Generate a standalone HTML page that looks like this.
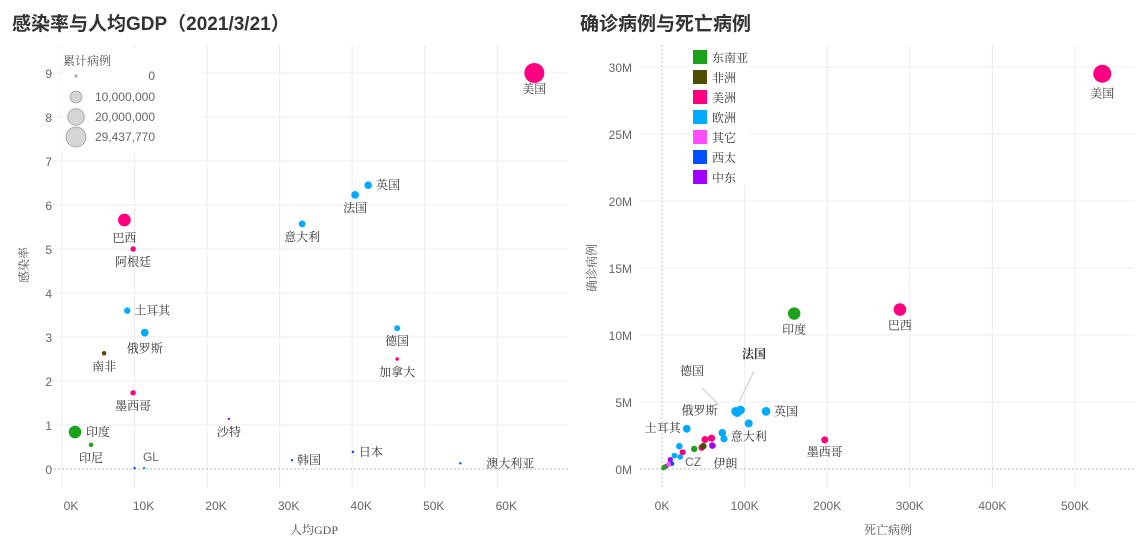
<!DOCTYPE html>
<html><head><meta charset="utf-8">
<style>
body{margin:0;background:#fff;width:1142px;height:545px;overflow:hidden}
svg{position:absolute;top:0;left:0}
.t{font-family:"Liberation Sans","Noto Sans CJK SC",sans-serif;font-weight:bold;font-size:19px;fill:#333}
.tick{font-family:"Liberation Sans",sans-serif;font-size:12px;fill:#666}
.lab{font-family:"Liberation Serif","Noto Serif CJK SC",serif;font-size:12px;fill:#333}
.ax{font-family:"Liberation Serif","Noto Serif CJK SC",serif;font-size:12px;fill:#555}
</style></head><body>
<svg id="s" width="1142" height="545">
<text class="t" x="12" y="30">感染率与人均GDP（2021/3/21）</text>
<text class="t" x="580" y="30">确诊病例与死亡病例</text>
<g id="L"></g><g id="R"></g>
</svg>
<script>
const colors={sea:'#1aa31a',af:'#4d4d00',am:'#ff0080',eu:'#00aaff',ot:'#ff4dff',wp:'#0050ff',me:'#a000ff'};
// Left chart data
const lNames=['美国','英国','法国','意大利','巴西','阿根廷','土耳其','俄罗斯','德国','加拿大','南非','墨西哥','印度','印尼','沙特','韩国','日本','澳大利亚','GL',''];
const lGdp=[65100,42200,40400,33100,8600,9800,9000,11400,46200,46200,5800,9800,1800,4000,23000,31700,40100,54900,11300,10000];
const lRate=[9.0,6.45,6.23,5.57,5.66,5.0,3.6,3.1,3.2,2.5,2.63,1.73,0.84,0.55,1.14,0.2,0.39,0.13,0.02,0.02];
const lCases=[29437770,4300000,4400000,3400000,11900000,2200000,3000000,4400000,2600000,930000,1540000,2180000,11600000,1450000,390000,98000,460000,29000,10,10];
const lReg=['am','eu','eu','eu','am','am','eu','eu','eu','am','af','am','sea','sea','me','wp','wp','wp','eu','wp'];
const lLabOff=[[0,20],[20,4],[0,17],[0,17],[0,22],[0,17],[25,4],[0,20],[0,17],[0,17],[0,17],[0,17],[23,4],[0,17],[0,17],[17,4],[18,4],[50,4],[7,-7],[0,0]];
const lxTicks=[0,10000,20000,30000,40000,50000,60000];
const lxTickLabels=['0K','10K','20K','30K','40K','50K','60K'];
const lyTicks=[0,1,2,3,4,5,6,7,8,9];
// Right chart data
const rNames=['美国','巴西','印度','墨西哥','英国','法国','','俄罗斯','意大利','德国','','土耳其','伊朗','','','','','','','','','CZ','','','','','',''];
const rDeaths=[533000,288000,160000,197000,126000,95000,91000,89000,105000,73000,75000,30000,61000,52000,60000,48000,50000,39000,21000,25000,15000,22000,10000,12000,5000,8000,3000,2000];
const rCases=[29500000,11900000,11600000,2170000,4300000,4400000,4200000,4300000,3400000,2700000,2250000,3000000,1750000,2200000,2300000,1600000,1700000,1500000,1700000,1250000,1000000,900000,700000,400000,200000,350000,150000,80000];
const rReg=['am','am','sea','am','eu','eu','eu','eu','eu','eu','eu','eu','me','am','am','am','af','sea','eu','am','eu','eu','me','wp','me','ot','sea','sea'];
const legNames=['东南亚','非洲','美洲','欧洲','其它','西太','中东'];
const legKeys=['sea','af','am','eu','ot','wp','me'];
const rxTicks=[0,100000,200000,300000,400000,500000];
const rxTickLabels=['0K','100K','200K','300K','400K','500K'];
const ryTicks=[0,5e6,10e6,15e6,20e6,25e6,30e6];
const ryTickLabels=['0M','5M','10M','15M','20M','25M','30M'];
const NS='http://www.w3.org/2000/svg';
function mk(p,tag,a,txt){const e=document.createElementNS(NS,tag);for(const k in a)e.setAttribute(k,a[k]);if(txt!==undefined)e.textContent=txt;p.appendChild(e);return e;}
const rad=c=>Math.max(1.2,10*Math.sqrt(c/29437770));
// LEFT
const L=document.getElementById('L');
const lx=v=>62+v*0.007255, ly=v=>469-v*44;
lxTicks.forEach((t,i)=>{const g=mk(L,'line',{x1:lx(t),x2:lx(t),y1:45,y2:488,stroke:'#ececec'});


const tx=mk(L,'text',{class:'tick',x:lx(t)+9,y:510,'text-anchor':'middle'},lxTickLabels[i]);

});
lyTicks.forEach(t=>{const g=mk(L,'line',{x1:50,x2:568,y1:ly(t),y2:ly(t),stroke:t?'#ececec':'#bbb','stroke-dasharray':t?'':'2,2'});


const tx=mk(L,'text',{class:'tick',x:52,y:ly(t)+5,'text-anchor':'end'},t);

});
const lb=mk(L,'rect',{x:62,y:48,width:140,height:105,fill:'#fff'});


mk(L,'text',{class:'ax',x:63,y:65,fill:'#888'},'累计病例');
[[0,'0',80],[10000000,'10,000,000',101],[20000000,'20,000,000',121],[29437770,'29,437,770',141]].forEach(r=>{
const c=mk(L,'circle',{cx:76,cy:r[2]-4,r:rad(r[0]),fill:'#d6d6d6',stroke:'#aaa','stroke-width':1});


mk(L,'text',{class:'tick',x:155,y:r[2],'text-anchor':'end',fill:'#444'},r[1]);});
lGdp.forEach((g,i)=>{const c=mk(L,'circle',{cx:lx(g),cy:ly(lRate[i]),r:rad(lCases[i]),fill:colors[lReg[i]]});


if(lNames[i]){const o=lLabOff[i];const t=mk(L,'text',{class:lNames[i]==='GL'?'tick':'lab',x:lx(g)+o[0],y:ly(lRate[i])+o[1],'text-anchor':'middle'},lNames[i]);

}});
const xt=mk(L,'text',{class:'ax',x:314,y:534,'text-anchor':'middle'},'人均GDP');


const yt=mk(L,'text',{class:'ax',x:28,y:265,'text-anchor':'middle',transform:'rotate(-90 28 265)',fill:'#c55'},'感染率');


// RIGHT
const R=document.getElementById('R');
const rx=v=>662+v*0.000826, ry=v=>469-v*0.0000134;
rxTicks.forEach((t,i)=>{const g=mk(R,'line',{x1:rx(t),x2:rx(t),y1:45,y2:488,stroke:t?'#ececec':'#bbb','stroke-dasharray':t?'':'2,2'});


const tx=mk(R,'text',{class:'tick',x:rx(t),y:510,'text-anchor':'middle'},rxTickLabels[i]);

});
ryTicks.forEach((t,i)=>{const g=mk(R,'line',{x1:640,x2:1135,y1:ry(t),y2:ry(t),stroke:t?'#ececec':'#bbb','stroke-dasharray':t?'':'2,2'});


const tx=mk(R,'text',{class:'tick',x:632,y:ry(t)+5,'text-anchor':'end'},ryTickLabels[i]);

});
const lg=mk(R,'rect',{x:688,y:45,width:60,height:140,fill:'#fff'});


legNames.forEach((n,i)=>{const y=50+i*20;
const s=mk(R,'rect',{x:693,y:y,width:14,height:14,fill:colors[legKeys[i]]});


mk(R,'text',{class:'lab',x:712,y:y+12,fill:'#888'},n);});
mk(R,'line',{x1:754,y1:371,x2:739,y2:402,stroke:'#ccc'});
mk(R,'line',{x1:702,y1:388,x2:719,y2:405,stroke:'#ccc'});
const rLab={'美国':[0,24],'巴西':[0,20],'印度':[0,20],'墨西哥':[0,16],'英国':[20,4],'俄罗斯':[-36,3],'意大利':[0,17],'土耳其':[-24,3],'伊朗':[13,22],'CZ':[13,9]};
rDeaths.forEach((d,i)=>{const c=mk(R,'circle',{cx:rx(d),cy:ry(rCases[i]),r:rad(rCases[i])*0.75+1.5,fill:colors[rReg[i]]});


const n=rNames[i];if(n&&rLab[n]){const o=rLab[n];
const t=mk(R,'text',{class:n==='CZ'?'tick':'lab',x:rx(d)+o[0],y:ry(rCases[i])+o[1],'text-anchor':'middle',fill:n==='CZ'?'#222':'#333'},n);

}});
mk(R,'text',{class:'lab',x:754,y:358,'text-anchor':'middle','font-weight':'bold'},'法国');
mk(R,'text',{class:'lab',x:692,y:375,'text-anchor':'middle',fill:'#666'},'德国');
const rxt=mk(R,'text',{class:'ax',x:888,y:534,'text-anchor':'middle',fill:'#6a8ab5'},'死亡病例');


const ryt=mk(R,'text',{class:'ax',x:596,y:268,'text-anchor':'middle',transform:'rotate(-90 596 268)',fill:'#6a8ab5'},'确诊病例');


</script>
</body></html>
